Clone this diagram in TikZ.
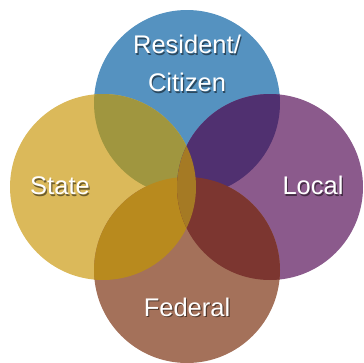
\documentclass[tikz,border=0pt]{standalone}
\usepackage{fontspec}
\setmainfont{Liberation Sans}
\usetikzlibrary{positioning}

\definecolor{resblue}{HTML}{5592C0}
\definecolor{stateyellow}{HTML}{DBB95A}
\definecolor{localpurple}{HTML}{8B5A8C}
\definecolor{fedbrown}{HTML}{A4715A}
\definecolor{resstate}{HTML}{A0963F}
\definecolor{reslocal}{HTML}{503070}
\definecolor{statefed}{HTML}{B88A1E}
\definecolor{localfed}{HTML}{7C3630}
\definecolor{middle}{HTML}{A57A24}

\tikzset{
  disc/.style={circle, fill=#1, minimum size=186pt, inner sep=0pt, outer sep=0pt},
  lbl/.style={text=white, font=\fontsize{25.5}{38}\selectfont, align=center,
    inner sep=0pt, execute at begin node={\colorlet{shdcol}{#1!50!black}}},
}
% white text with a soft dark copy under it
\newcommand{\shd}[1]{\rlap{\hspace*{1.2pt}\raisebox{-1.5pt}{\textcolor{shdcol}{#1}}}#1}

\begin{document}
\begin{tikzpicture}[x=1pt,y=-1pt]
  \useasboundingbox (0,0) rectangle (364,362);

  % The four circles
  \node[disc=resblue] (res) at (187,103) {};
  \node[disc=stateyellow] (state) at (103,187) {};
  \node[disc=localpurple] (local) at (270,187) {};
  \node[disc=fedbrown] (fed) at (187,270) {};

  % Overlaps
  \begin{scope}
    \clip (res) circle (93pt);
    \fill[resstate] (state) circle (93pt);
    \fill[reslocal] (local) circle (93pt);
  \end{scope}
  \begin{scope}
    \clip (fed) circle (93pt);
    \fill[statefed] (state) circle (93pt);
    \fill[localfed] (local) circle (93pt);
  \end{scope}
  \begin{scope}
    \clip (state) circle (93pt);
    \fill[middle] (local) circle (93pt);
  \end{scope}

  % Labels
  \node[lbl=resblue] (reslbl) at (187,64.5) {\shd{Resident/}\\\shd{Citizen}};
  \node[lbl=stateyellow] (statelbl) at (60,186.5) {\shd{State}};
  \node[lbl=localpurple] (locallbl) at (313,186.5) {\shd{Local}};
  \node[lbl=fedbrown] (fedlbl) at (187,308) {\shd{Federal}};
\end{tikzpicture}
\end{document}
